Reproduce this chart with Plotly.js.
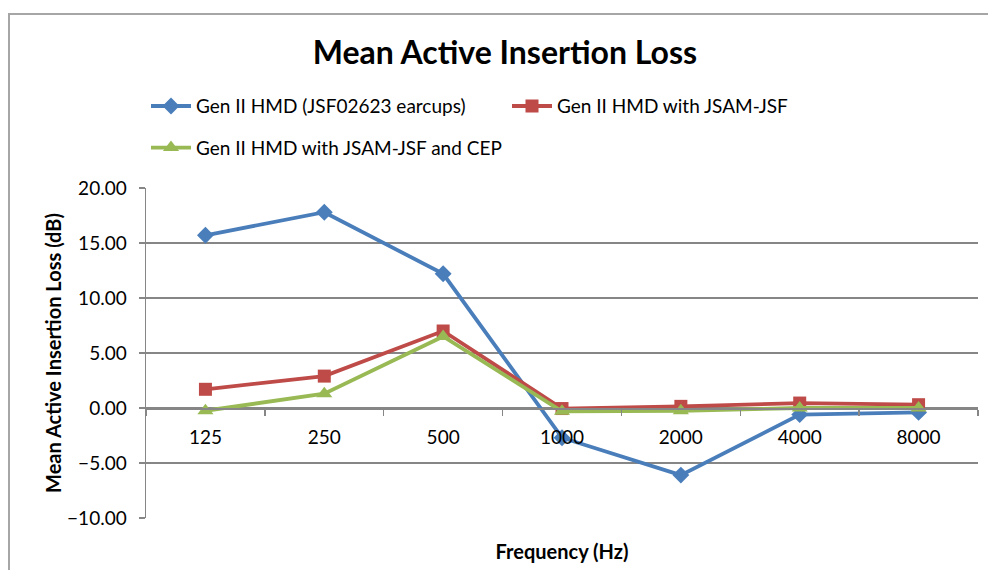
<!DOCTYPE html>
<html><head><meta charset="utf-8">
<script src="https://cdn.plot.ly/plotly-3.0.1.min.js"></script>
<style>
html,body{margin:0;padding:0;background:#fff;}
#wrap{position:relative;width:988px;height:570px;}
#chart{position:absolute;left:0;top:0;width:988px;height:570px;}
#frame{position:absolute;left:8px;top:13px;width:990px;height:570px;border-left:2px solid #a6a6a6;border-top:2px solid #a6a6a6;pointer-events:none;}
</style>
</head><body>
<div id="wrap"><div id="chart"></div><div id="frame"></div></div>
<script>
const categories = ['125','250','500','1000','2000','4000','8000'];
const seriesNames = ['Gen II HMD (JSF02623 earcups)','Gen II HMD with JSAM-JSF','Gen II HMD with JSAM-JSF and CEP'];
const genII = [15.7, 17.8, 12.2, -2.7, -6.1, -0.6, -0.4];
const jsam = [1.7, 2.9, 7.0, -0.05, 0.15, 0.45, 0.3];
const jsamCep = [-0.25, 1.3, 6.5, -0.3, -0.25, 0.0, 0.0];
const yTicks = [-10, -5, 0, 5, 10, 15, 20];

const font = 'Lato, "Open Sans", sans-serif';
const yMin = -10, yMax = 20;

const traces = [
  {x: categories, y: genII, name: seriesNames[0], type:'scatter', mode:'lines+markers',
   line:{color:'#4a7ebb', width:3.8}, marker:{symbol:'diamond', size:13, color:'#4a7ebb'}, legend:'legend'},
  {x: categories, y: jsam, name: seriesNames[1], type:'scatter', mode:'lines+markers',
   line:{color:'#be4b48', width:3.8}, marker:{symbol:'square', size:13, color:'#be4b48'}, legend:'legend'},
  {x: categories, y: jsamCep, name: seriesNames[2], type:'scatter', mode:'lines+markers',
   line:{color:'#98b954', width:3.8}, marker:{symbol:'triangle-up', size:14, color:'#98b954'}, legend:'legend2'}
];

const layout = {
  width: 988, height: 570,
  margin: {l:146, r:10, t:188, b:52},
  paper_bgcolor:'rgba(0,0,0,0)', plot_bgcolor:'rgba(0,0,0,0)',
  font: {family: font, size: 19, color:'#000'},
  title: {text:'<b>Mean Active Insertion Loss</b>', font:{size:32, family:font, color:'#000'},
          x:0.511, xanchor:'center', y:1-53/570, yanchor:'middle', yref:'container'},
  showlegend: true,
  legend: {orientation:'h', x:0, xanchor:'left', y:1.248, yanchor:'middle', itemwidth:40,
           entrywidth:306, entrywidthmode:'pixels', font:{size:19, family:font}, bgcolor:'rgba(0,0,0,0)'},
  legend2: {orientation:'h', x:0, xanchor:'left', y:1.122, yanchor:'middle', itemwidth:40,
           font:{size:19, family:font}, bgcolor:'rgba(0,0,0,0)'},
  xaxis: {type:'category', categoryarray: categories, categoryorder:'array',
          range:[-0.5, categories.length-0.5], anchor:'free', position:(0-yMin)/(yMax-yMin),
          showline:true, linecolor:'#868686', linewidth:1.5,
          ticks:'outside', tickson:'boundaries', ticklen:6, tickcolor:'#868686', tickwidth:1.5,
          ticklabelstandoff:12,
          showgrid:false, zeroline:false, tickfont:{size:19, family:font},
          title:{text:'<b>Frequency (Hz)</b>', font:{size:20, family:font}, standoff:97}, automargin:false},
  yaxis: {range:[yMin, yMax], tickvals: yTicks, tickformat:'.2f', showline:true, linecolor:'#868686', linewidth:1.5,
          ticks:'outside', ticklen:6, tickcolor:'#868686', tickwidth:1.5,
          ticklabelstandoff:8,
          showgrid:true, gridcolor:'#868686', gridwidth:1.2, zeroline:false,
          tickfont:{size:19, family:font},
          title:{text:'<b>Mean Active Insertion Loss (dB)</b>', font:{size:20, family:font}, standoff:0}, automargin:false}
};

Plotly.newPlot('chart', traces, layout, {displayModeBar:false, staticPlot:true});
</script>
</body></html>
